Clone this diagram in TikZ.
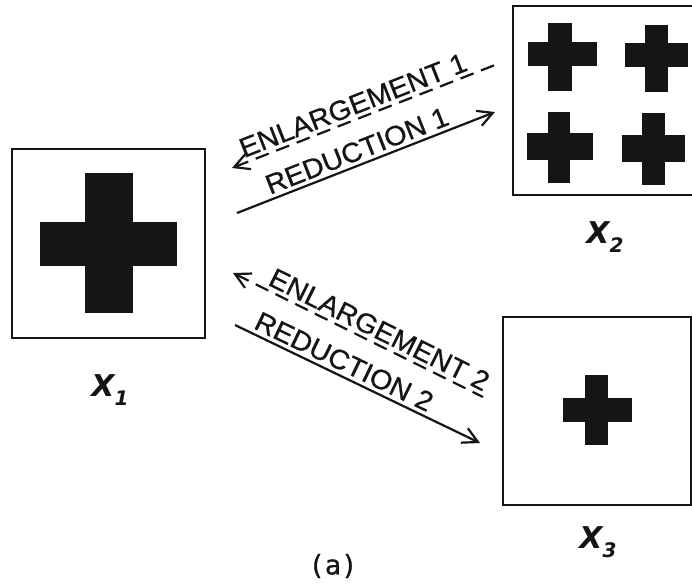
\documentclass[tikz,border=0pt]{standalone}
\usepackage{fontspec}
\newfontfamily\labfont[FakeStretch=1.04,FakeBold=0.8]{Liberation Sans}
\newfontfamily\monofont[FakeBold=0.8]{DejaVu Sans Mono}
\newfontfamily\varfont{DejaVu Sans}
\usetikzlibrary{arrows.meta}
\definecolor{ink}{HTML}{151515}
\newcommand\drawplus[8]{%
  \fill[ink] (#1,#3) rectangle (#2,#4);
  \fill[ink] (#5,#7) rectangle (#6,#8);}
\begin{document}
\begin{tikzpicture}[x=1pt,y=-1pt,
  frame/.style={draw=ink, line width=2.4pt, inner sep=0pt, fill=none},
  link/.style={draw=ink, line width=2.2pt},
  dashlink/.style={link, dash pattern=on 14pt off 8pt},
  lab/.style={font=\labfont\fontsize{27.5}{28}\selectfont, text=ink, inner sep=3.5pt},
  xlab/.style={font=\varfont\bfseries\itshape\fontsize{30}{31}\selectfont, text=ink, inner sep=0pt},
  caption/.style={font=\monofont\fontsize{27}{28}\selectfont, text=ink, inner sep=0pt}]
\useasboundingbox[fill=white] (0,0) rectangle (692,587);

% boxes
\node[frame, minimum width=193pt, minimum height=189pt] (x1) at (108.5,243.5) {};
\node[frame, minimum width=184pt, minimum height=189pt] (x2) at (605,100.5) {};
\node[frame, minimum width=188pt, minimum height=188pt] (x3) at (597,411) {};

% crosses
\drawplus{85}{133}{173}{313}{40}{177}{222}{266}
\drawplus{548}{572}{23}{91}{528}{597}{42}{66}
\drawplus{645}{668}{25}{92}{625}{688}{43}{67}
\drawplus{548}{570}{112}{183}{527}{593}{133}{160}
\drawplus{642}{665}{113}{185}{622}{685}{135}{162}
\drawplus{585}{608}{375}{445}{563}{632}{398}{422}

% labels
\node[xlab] (l1) at (110,390) {X\raisebox{-0.3em}{\fontsize{20}{20}\selectfont 1}};
\node[xlab] (l2) at (605,237) {X\raisebox{-0.3em}{\fontsize{20}{20}\selectfont 2}};
\node[xlab] (l3) at (598,542) {X\raisebox{-0.3em}{\fontsize{20}{20}\selectfont 3}};
\node[caption] (cap) at (333,566) {(a)};

% arrow end points
\coordinate (e1a) at (232,168);
\coordinate (e1b) at (495,65);
\coordinate (r1a) at (237,213);
\coordinate (r1b) at (495,112);
\coordinate (e2a) at (233,273);
\coordinate (e2b) at (483,397);
\coordinate (r2a) at (235,325);
\coordinate (r2b) at (480,443);

% connectors
\draw[dashlink, {Straight Barb[length=15pt,width=16pt]}-] (e1a) -- node[lab, sloped, above, pos=0.48] {ENLARGEMENT 1} (e1b);
\draw[link, -{Straight Barb[length=15pt,width=16pt]}] (r1a) -- node[lab, sloped, above, pos=0.485] {REDUCTION 1} (r1b);
\draw[dashlink, {Straight Barb[length=15pt,width=16pt]}-] (e2a) -- node[lab, sloped, above, pos=0.56] {ENLARGEMENT 2} (e2b);
\draw[link, -{Straight Barb[length=15pt,width=16pt]}] (r2a) -- node[lab, sloped, above, pos=0.42] {REDUCTION 2} (r2b);
\end{tikzpicture}
\end{document}
